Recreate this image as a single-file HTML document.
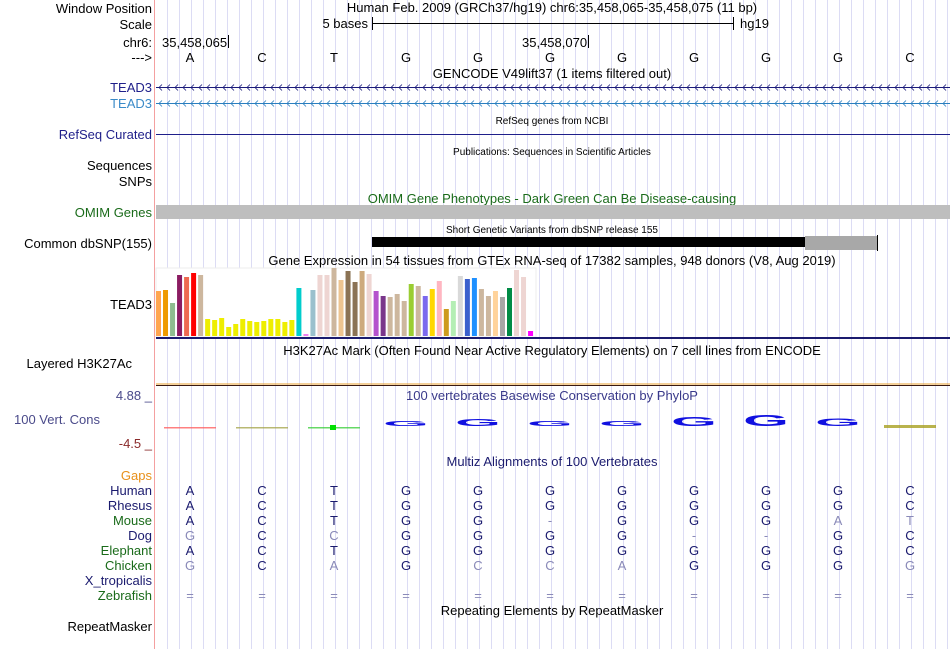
<!DOCTYPE html>
<html><head><meta charset="utf-8"><style>
html,body{margin:0;padding:0;background:#fff;}
svg{display:block;font-family:"Liberation Sans",sans-serif;}
</style></head><body>
<svg id="s" width="950" height="649" viewBox="0 0 950 649" xmlns="http://www.w3.org/2000/svg">
<g id="grid"></g>
<line x1="154.5" y1="0" x2="154.5" y2="649" stroke="#f4a0a0" stroke-width="1"/>
<g font-size="13" fill="#000" text-anchor="end">
<text x="152" y="13">Window Position</text>
<text x="152" y="29">Scale</text>
<text x="152" y="47">chr6:</text>
<text x="152" y="62">---&gt;</text>
<text x="152" y="92" fill="#1f1f8a">TEAD3</text>
<text x="152" y="108" fill="#3a8ac8">TEAD3</text>
<text x="152" y="139" fill="#1f1f8a">RefSeq Curated</text>
<text x="152" y="170">Sequences</text>
<text x="152" y="186">SNPs</text>
<text x="152" y="217" fill="#1a6b1a">OMIM Genes</text>
<text x="152" y="248">Common dbSNP(155)</text>
<text x="152" y="309">TEAD3</text>
<text x="132" y="368">Layered H3K27Ac</text>
<text x="152" y="400" fill="#4a4a8a">4.88 _</text>
<text x="100" y="424" fill="#4a4a8a">100 Vert. Cons</text>
<text x="152" y="448" fill="#8a2a2a">-4.5 _</text>
<text x="152" y="480" fill="#e8901a">Gaps</text>
<text x="152" y="631">RepeatMasker</text>
</g>
<g id="species" font-size="13" text-anchor="end"></g>
<g font-size="13" text-anchor="middle">
<text x="552" y="12">Human Feb. 2009 (GRCh37/hg19)   chr6:35,458,065-35,458,075 (11 bp)</text>
<text x="552" y="78">GENCODE V49lift37 (1 items filtered out)</text>
<text x="552" y="203" fill="#1a6b1a">OMIM Gene Phenotypes - Dark Green Can Be Disease-causing</text>
<text x="552" y="265">Gene Expression in 54 tissues from GTEx RNA-seq of 17382 samples, 948 donors (V8, Aug 2019)</text>
<text x="552" y="355">H3K27Ac Mark (Often Found Near Active Regulatory Elements) on 7 cell lines from ENCODE</text>
<text x="552" y="400" fill="#3a3a8a">100 vertebrates Basewise Conservation by PhyloP</text>
<text x="552" y="466" fill="#1a1a6e">Multiz Alignments of 100 Vertebrates</text>
<text x="552" y="615">Repeating Elements by RepeatMasker</text>
</g>
<g font-size="10" text-anchor="middle">
<text x="552" y="124">RefSeq genes from NCBI</text>
<text x="552" y="155">Publications: Sequences in Scientific Articles</text>
<text x="552" y="233">Short Genetic Variants from dbSNP release 155</text>
</g>
<g stroke="#000">
<line x1="372" y1="23.5" x2="734" y2="23.5"/>
<line x1="372.5" y1="17" x2="372.5" y2="30"/>
<line x1="733.5" y1="17" x2="733.5" y2="30"/>
</g>
<text x="368" y="28" font-size="13" text-anchor="end">5 bases</text>
<text x="740" y="28" font-size="13">hg19</text>
<text x="162" y="47" font-size="13">35,458,065</text>
<line x1="228.5" y1="35" x2="228.5" y2="48" stroke="#000"/>
<text x="522" y="47" font-size="13">35,458,070</text>
<line x1="588.5" y1="35" x2="588.5" y2="48" stroke="#000"/>
<g id="bases" font-size="13" text-anchor="middle"></g>
<g id="genes"></g>
<line x1="156" y1="134.5" x2="950" y2="134.5" stroke="#1f1f8a"/>
<rect x="156" y="205" width="794" height="14" fill="#bebebe"/>
<rect x="372" y="237" width="506" height="10" fill="#000"/>
<rect x="805" y="236" width="72" height="14" fill="#a8a8a8"/>
<line x1="877.5" y1="235" x2="877.5" y2="251" stroke="#000"/>
<rect x="156" y="268" width="380" height="69" fill="#fff" stroke="#eee"/>
<g id="gtex"></g>
<line x1="156" y1="338" x2="950" y2="338" stroke="#1a1a6e" stroke-width="2"/>
<line x1="156" y1="384" x2="950" y2="384" stroke="#e8a030" stroke-width="1"/>
<line x1="156" y1="385.5" x2="950" y2="385.5" stroke="#3a1a10" stroke-width="1"/>
<g id="cons"></g>
<g id="align" font-size="13" text-anchor="middle"></g>
</svg>
<script>
var NS="http://www.w3.org/2000/svg";
function el(t,a,p){var e=document.createElementNS(NS,t);for(var k in a)e.setAttribute(k,a[k]);(p||document.getElementById('s')).appendChild(e);return e;}
var bases=["A","C","T","G","G","G","G","G","G","G","C"];
function bx(i){return 190+72*i;}
var g=document.getElementById('grid');
for(var x=167;x<950;x+=12){var l=el('line',{x1:x+.5,y1:0,x2:x+.5,y2:649,stroke:'#dcdcf4'},g);

}
var bg=document.getElementById('bases');
bases.forEach(function(b,i){var t=el('text',{x:bx(i),y:62},bg);t.textContent=b;

});
var gg=document.getElementById('genes');
[[87.5,'#1a1a7a'],[103.5,'#2a7fbf']].forEach(function(r){
var ln=el('line',{x1:156,y1:r[0],x2:950,y2:r[0],stroke:r[1]},gg);


var d='';for(var x=159;x<948;x+=8){d+='M'+(x+3)+' '+(r[0]-3)+'L'+x+' '+r[0]+'L'+(x+3)+' '+(r[0]+3);}
el('path',{d:d,stroke:r[1],fill:'none','stroke-width':0.8},gg);});
var gtexValues=[45,46,33,61,59,63,61,17,16,18,9,12,17,15,14,15,17,17,14,16,48,2,46,61,61,68,56,65,54,65,62,45,40,39,42,35,52,50,40,47,55,27,35,60,57,58,47,40,45,39,48,66,59,5];
var gtexColors=["#ffa54f","#ee9a00","#8fbc8f","#8b1c62","#ee6a50","#ff0000","#cdb79e","#eeee00","#eeee00","#eeee00","#eeee00","#eeee00","#eeee00","#eeee00","#eeee00","#eeee00","#eeee00","#eeee00","#eeee00","#eeee00","#00cdcd","#ee82ee","#9ac0cd","#eed5d2","#eed5d2","#cdb79e","#eec591","#8b7355","#8b7355","#cdaa7d","#eed5d2","#b452cd","#7a378b","#cdb79e","#cdb79e","#cdb79e","#9acd32","#cdb79e","#7b68ee","#ffd700","#ffb6c1","#cd9b1d","#b4eeb4","#d9d9d9","#3a5fcd","#1e90ff","#cdb79e","#cdb79e","#ffd39b","#a6a6a6","#008b45","#eed5d2","#eed5d2","#ff00ff"];
var gx=document.getElementById('gtex');
var base=336,scaleY=1;
gtexValues.forEach(function(v,i){var r=el('rect',{x:156+i*7.02,y:base-v*scaleY,width:5,height:v*scaleY,fill:gtexColors[i]},gx);

});
var consHeights=[1,1,1,5,7,5,5,9,11,8,3];
var consColors=["#ff6060","#a8a850","#40d040","#1010e0","#1010e0","#1010e0","#1010e0","#1010e0","#1010e0","#1010e0","#a8a020"];
var cg=document.getElementById('cons');
consHeights.forEach(function(h,i){
if(i<3||i==10){var r=el('rect',{x:bx(i)-26,y:428-h,width:52,height:Math.max(h,1.5),fill:consColors[i],opacity:0.8},cg);
}
else{var t=el('text',{x:0,y:0,'font-size':14,'font-weight':'bold','text-anchor':'middle',fill:consColors[i],transform:'translate('+bx(i)+',426) scale(4.2,'+(h/10)+')'},cg);t.textContent='G';
}
});
el('rect',{x:bx(2)-4,y:425,width:6,height:5,fill:'#00e000'},cg);
var species=["Human","Rhesus","Mouse","Dog","Elephant","Chicken","X_tropicalis","Zebrafish"];
var spColors=["#1a1a6e","#1a1a6e","#1a6b1a","#1a1a6e","#1a6b1a","#1a6b1a","#1a1a6e","#1a6b1a"];
var aligns=["ACTGGGGGGGC","ACTGGGGGGGC","ACTGG-GGGat","gCcGGGG--GC","ACTGGGGGGGC","gCaGccaGGGg","","==========="];
var sg=document.getElementById('species'),ag=document.getElementById('align');
species.forEach(function(s,r){var y=495+15*r;
var t=el('text',{x:152,y:y,fill:spColors[r]},sg);t.textContent=s;

var row=aligns[r];for(var i=0;i<row.length;i++){var c=row[i];var faded=(c==c.toLowerCase())||c=='='||c=='-';
var a=el('text',{x:bx(i),y:y,fill:faded?'#8a8ab8':'#1a1a6e'},ag);a.textContent=c.toUpperCase();
}});
</script>
</body></html>
